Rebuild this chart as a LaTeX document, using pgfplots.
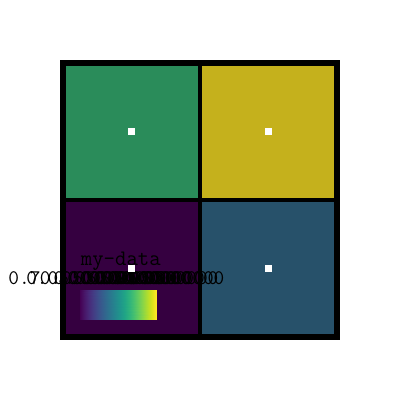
\documentclass[border=0pt]{standalone}
\usepackage{pgfplots}
\pgfplotsset{compat=1.18}
\definecolor{cTL}{RGB}{42,140,90}
\definecolor{cTR}{RGB}{197,177,28}
\definecolor{cBL}{RGB}{53,0,64}
\definecolor{cBR}{RGB}{39,81,106}
\begin{document}
\begin{tikzpicture}
\path[use as bounding box] (0,0) rectangle (4in,4in);
\begin{axis}[
  at={(0.63in,0.63in)}, anchor=south west,
  scale only axis, width=2.74in, height=2.74in,
  xmin=0, xmax=2, ymin=0, ymax=2,
  axis lines=none,
  ticks=none,
  colormap/viridis,
  clip=false,
]
\addplot[fill=cBL, draw=none] coordinates {(0,0)(1,0)(1,1)(0,1)} -- cycle;
\addplot[fill=cBR, draw=none] coordinates {(1,0)(2,0)(2,1)(1,1)} -- cycle;
\addplot[fill=cTL, draw=none] coordinates {(0,1)(1,1)(1,2)(0,2)} -- cycle;
\addplot[fill=cTR, draw=none] coordinates {(1,1)(2,1)(2,2)(1,2)} -- cycle;
\addplot[black, line width=3.4pt] coordinates {(1,0)(1,2)};
\addplot[black, line width=3.4pt] coordinates {(0,1)(2,1)};
\addplot[black, line width=3.8pt] coordinates {(0,0)(2,0)(2,2)(0,2)} -- cycle;
\addplot[only marks, mark=square*, mark size=2.2pt, white] coordinates {(0.5,0.5)(1.5,0.5)(0.5,1.5)(1.5,1.5)};
% colorbar
\addplot[surf, shader=interp, point meta=x] coordinates {
(0.124,0.131) (0.679,0.131)

(0.124,0.343) (0.679,0.343)
};
\node[font=\ttfamily\fontsize{16}{18}\selectfont] at (axis cs:0.422,0.55) {my-data};
\node[font=\ttfamily\fontsize{15}{17}\selectfont, anchor=west, inner sep=0pt] at (axis cs:-0.40,0.43) {0.7};
\pgfplotsinvokeforeach{-0.27,-0.17,-0.07,0.03,0.13,0.23,0.33,0.43}{
  \node[font=\ttfamily\fontsize{15}{17}\selectfont, anchor=west, inner sep=0pt] at (axis cs:#1,0.43) {0.0500000};
}
\node[font=\ttfamily\fontsize{15}{17}\selectfont, anchor=east, inner sep=0pt] at (axis cs:1.18,0.43) {0.0000000};
\end{axis}
\end{tikzpicture}
\end{document}
